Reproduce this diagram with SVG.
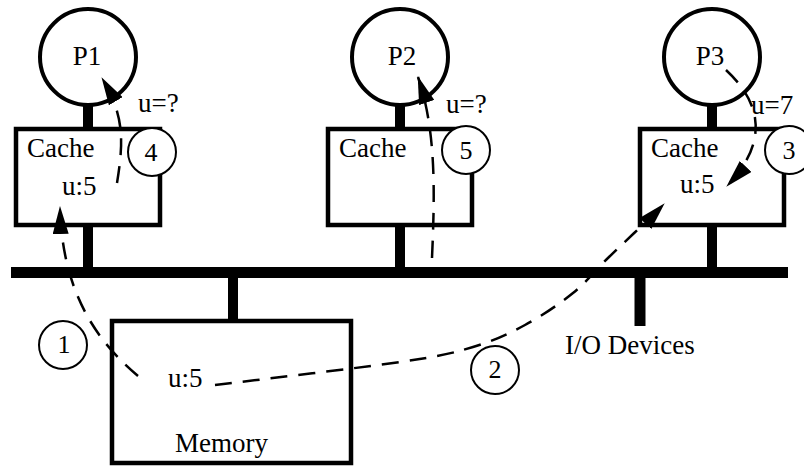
<svg xmlns="http://www.w3.org/2000/svg" width="804" height="468" viewBox="0 0 804 468">
<style>
  .bar { stroke: #000; stroke-width: 10; fill: none; }
  .box { fill: #fff; stroke: #000; stroke-width: 4.5; }
  .proc { fill: #fff; stroke: #000; stroke-width: 4; }
  .num { fill: #fff; stroke: #000; stroke-width: 2; }
  .dash { fill: none; stroke: #000; stroke-width: 2.5; stroke-dasharray: 17 11; marker-end: url(#arr); }
  text { font-family: "Liberation Serif", "Times New Roman", serif; font-size: 27px; fill: #000; }
  .n { font-size: 26px; text-anchor: middle; }
  .c { text-anchor: middle; }
</style>
<defs>
  <marker id="arr" markerUnits="userSpaceOnUse" viewBox="0 0 28 16" refX="27" refY="8" markerWidth="28" markerHeight="16" orient="auto">
    <path d="M0,0 L28,8 L0,16 z" fill="#000"/>
  </marker>
</defs>
<rect width="804" height="468" fill="#fff"/>

<g id="bus">
  <line x1="11" y1="272.5" x2="788" y2="272.5" stroke="#000" stroke-width="11"/>
</g>

<g id="p1node">
  <line class="bar" x1="88" y1="100" x2="88" y2="272"/>
  <rect class="box" x="16" y="129" width="144" height="96"/>
  <circle class="proc" cx="88" cy="57" r="48"/>
  <text class="c" x="87" y="65">P1</text>
  <text x="27" y="157">Cache</text>
  <text x="62" y="195">u:5</text>
  <text x="138" y="112">u=?</text>
</g>

<g id="p2node">
  <line class="bar" x1="400" y1="100" x2="400" y2="272"/>
  <rect class="box" x="328" y="129" width="144" height="96"/>
  <circle class="proc" cx="400" cy="57" r="48"/>
  <text class="c" x="402" y="65">P2</text>
  <text x="339" y="157">Cache</text>
  <text x="446" y="113">u=?</text>
</g>

<g id="p3node">
  <line class="bar" x1="712" y1="100" x2="712" y2="272"/>
  <rect class="box" x="640" y="129" width="144" height="96"/>
  <circle class="proc" cx="712" cy="57" r="48"/>
  <text class="c" x="710" y="65">P3</text>
  <text x="651" y="157">Cache</text>
  <text x="680" y="193">u:5</text>
  <text x="751" y="114">u=7</text>
</g>

<g id="memory">
  <line class="bar" x1="233" y1="272" x2="233" y2="322"/>
  <rect class="box" x="112" y="321" width="239" height="142"/>
  <text x="168" y="387">u:5</text>
  <text x="175" y="452">Memory</text>
</g>

<g id="io">
  <line x1="640" y1="272" x2="640" y2="326" stroke="#000" stroke-width="11"/>
  <text x="565" y="354">I/O Devices</text>
</g>

<g id="connectors">
  <path class="dash" d="M138,376 C95,340 62,290 60,207"/>
  <path class="dash" d="M215,385 C245.8,381.2 357,368.3 400,362 C443,355.7 452.2,353.2 473,347 C493.8,340.8 508.3,334 525,325 C541.7,316 559,304.3 573,293 C587,281.7 593.8,271.7 609,257 C624.2,242.3 654.8,213.7 664,204"/>
  <path class="dash" d="M726,70 Q785,125 727,186"/>
  <path class="dash" d="M117,183 C124,140 124,115 102,78"/>
  <path class="dash" d="M432,258 C435,190 436,130 418,77"/>
</g>

<g id="step1">
  <circle class="num" cx="63" cy="345" r="24"/>
  <text class="n" x="64" y="353">1</text>
</g>
<g id="step2">
  <circle class="num" cx="495" cy="370" r="24"/>
  <text class="n" x="495" y="378">2</text>
</g>
<g id="step3">
  <circle class="num" cx="789" cy="150" r="24"/>
  <text class="n" x="789" y="159">3</text>
</g>
<g id="step4">
  <circle class="num" cx="152" cy="152" r="24"/>
  <text class="n" x="151" y="161">4</text>
</g>
<g id="step5">
  <circle class="num" cx="466" cy="150" r="24"/>
  <text class="n" x="466" y="159">5</text>
</g>
</svg>
